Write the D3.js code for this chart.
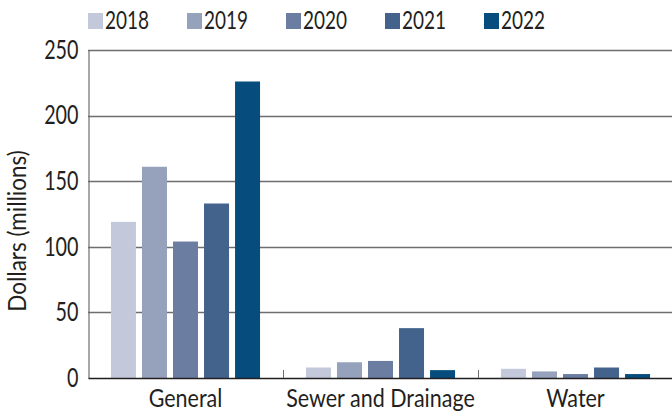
<!DOCTYPE html>
<html>
<head>
<meta charset="utf-8">
<script src="https://cdn.jsdelivr.net/npm/d3@7"></script>
<style>
  body { margin: 0; background: #fff; }
  text { font-family: "Lato", "Open Sans", sans-serif; fill: #231f20; }
</style>
</head>
<body>
<div id="chart"></div>
<script>
const categories = ['General', 'Sewer and Drainage', 'Water']
const years = ['2018', '2019', '2020', '2021', '2022']
const values = {
  '2018': [119, 8, 7],
  '2019': [161, 12, 5],
  '2020': [104, 13, 3],
  '2021': [133, 38, 8],
  '2022': [226, 6, 3],
}
const yTicks = [0, 50, 100, 150, 200, 250]
const colors = ['#c3c9da', '#96a1bc', '#6b7da0', '#43638d', '#064c7c']

const W = 672, H = 414
const margin = { top: 50, right: 0, bottom: 36, left: 88 }

/* squeeze text horizontally, the original uses a condensed face */
function condense(sel, s) {
  sel.each(function() {
    const t = d3.select(this)
    const tx = +t.attr('x') || 0
    t.attr('x', tx / s).attr('transform', `scale(${s},1)`)
  })
}

const svg = d3.select('#chart').append('svg')
  .attr('width', W)
  .attr('height', H)

/* scales */
const x = d3.scaleBand().domain(categories).range([margin.left, W + 1])
const xi = d3.scaleBand().domain(years).range([0, x.bandwidth()])
  .paddingInner(0.194).paddingOuter(0.74)
const y = d3.scaleLinear().domain([0, 250]).range([H - margin.bottom, margin.top])
const color = d3.scaleOrdinal().domain(years).range(colors)

/* gridlines */
svg.append('g')
  .selectAll('line')
  .data(yTicks.filter(d => d > 0))
  .join('line')
  .attr('x1', margin.left).attr('x2', W)
  .attr('y1', d => Math.round(y(d)) + 0.5).attr('y2', d => Math.round(y(d)) + 0.5)
  .attr('stroke', '#6d6e71')
  .attr('stroke-width', 1.3)

/* y axis */
const yAxis = svg.append('g')
  .attr('transform', `translate(${margin.left + 0.5},0)`)
  .call(d3.axisLeft(y).tickValues(yTicks).tickSize(0).tickPadding(10))
yAxis.select('.domain').attr('stroke', '#6d6e71').attr('stroke-width', 1.2)
yAxis.selectAll('.tick text')
  .attr('font-size', 26)
  .attr('font-family', null)
  .attr('fill', '#231f20')
  .call(condense, 0.76)

/* bars */
svg.append('g')
  .selectAll('g')
  .data(years)
  .join('g')
  .attr('fill', d => color(d))
  .selectAll('rect')
  .data(yr => values[yr].map((v, i) => ({ yr, cat: categories[i], v })))
  .join('rect')
  .attr('x', d => x(d.cat) + xi(d.yr))
  .attr('width', xi.bandwidth())
  .attr('y', d => y(d.v))
  .attr('height', d => y(0) - y(d.v))

/* x axis */
const xAxis = svg.append('g')
  .attr('transform', `translate(0,${y(0)})`)
  .call(d3.axisBottom(x).tickSize(0).tickPadding(10))
xAxis.select('.domain').attr('stroke', '#231f20').attr('stroke-width', 1.5)
xAxis.selectAll('.tick text')
  .attr('font-size', 25)
  .attr('font-family', null)
  .attr('fill', '#231f20')
  .attr('dy', '0.75em')
  .call(condense, 0.86)

/* category separators */
svg.append('g')
  .selectAll('line')
  .data(categories.slice(1))
  .join('line')
  .attr('x1', d => x(d) + 0.5).attr('x2', d => x(d) + 0.5)
  .attr('y1', y(0)).attr('y2', y(0) - 8)
  .attr('stroke', '#6d6e71')

/* y label */
svg.append('g')
  .attr('transform', `translate(26,${(y(0) + y(250)) / 2 + 17}) rotate(-90)`)
  .append('text')
  .attr('text-anchor', 'middle')
  .attr('font-size', 25)
  .text('Dollars (millions)')
  .call(condense, 0.9)

/* legend */
const legend = svg.append('g')
  .selectAll('g')
  .data(years)
  .join('g')
  .attr('transform', (d, i) => `translate(${88 + i * 99},0)`)
legend.append('rect')
  .attr('y', 13).attr('width', 15).attr('height', 16)
  .attr('fill', d => color(d))
legend.append('g')
  .attr('transform', 'translate(17,29)')
  .append('text')
  .attr('font-size', 25)
  .text(d => d)
  .call(condense, 0.76)
</script>
</body>
</html>
